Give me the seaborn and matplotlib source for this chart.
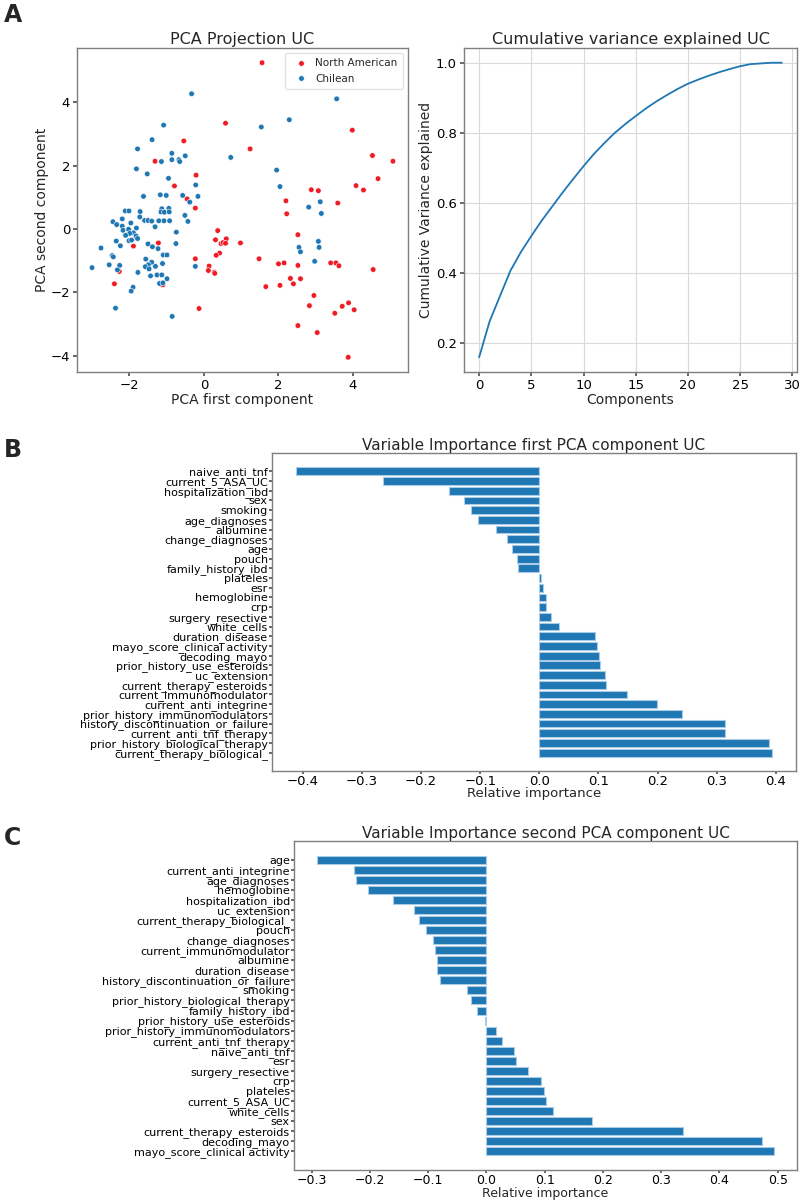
import matplotlib
matplotlib.use("Agg")
import matplotlib.pyplot as plt
import seaborn as sns
import numpy as np
import pandas as pd

# Style global
sns.set_theme(style="ticks")
plt.rcParams["font.family"] = ["DejaVu Sans"]
plt.rcParams["axes.edgecolor"] = "#7f7f7f"
plt.rcParams["axes.linewidth"] = 1.0
plt.rcParams["xtick.color"] = "#555555"
plt.rcParams["ytick.color"] = "#555555"
plt.rcParams["xtick.labelcolor"] = "black"
plt.rcParams["ytick.labelcolor"] = "black"
plt.rcParams["xtick.major.size"] = 3
plt.rcParams["ytick.major.size"] = 3
plt.rcParams["xtick.major.pad"] = 2
plt.rcParams["ytick.major.pad"] = 2

BLUE = "#1f77b4"
RED = "#ee1c25"

# --- Panel A : projection PCA ---
na_x = [0.58, -0.54, -1.31, -0.21, -0.79, -0.45, -0.23, 1.56, 3.98, 1.24, 4.52, 5.07,
        4.67, 4.08, 4.28, 2.88, 3.07, 2.20, 2.22, 3.59, -1.22, -1.89, -2.27, -2.40,
        -1.10, -0.23, -0.13, 0.37, 0.31, 0.60, 0.46, 0.51, 0.58, 0.42, 0.33, 0.98,
        0.14, 0.12, 0.28, 0.29, 1.48, 2.00, 2.15, 1.66, 2.04, 2.32, 2.40, 2.59,
        2.52, 2.52, 3.40, 3.54, 3.62, 4.54, 2.95, 2.83, 3.88, 3.71, 3.51, 4.03,
        2.52, 3.04, 3.87]
na_y = [3.34, 2.78, 2.14, 1.70, 1.36, 0.95, 0.66, 5.25, 3.12, 2.53, 2.32, 2.14,
        1.59, 1.37, 1.23, 1.24, 1.21, 0.89, 0.48, 0.82, -0.44, -0.54, -1.34, -1.73,
        -1.76, -0.94, -2.51, -0.05, -0.34, -0.31, -0.46, -0.43, -0.45, -0.76, -0.83, -0.44,
        -1.17, -1.31, -1.36, -1.40, -0.94, -1.10, -1.07, -1.82, -1.78, -1.56, -1.73, -1.57,
        -1.15, -0.18, -1.07, -1.07, -1.16, -1.28, -2.10, -2.42, -2.33, -2.44, -2.66, -2.55,
        -3.05, -3.27, -4.05]

cl_x = [-0.33, -1.08, -1.39, -1.78, 0.72, -1.14, -0.86, -0.86, -0.50, -0.67, -0.65,
        -1.81, -1.52, -0.95, -0.22, -1.17, -1.01, -1.62, -0.57, -0.16, -0.38,
        -1.13, -0.94, -1.15, -1.06, -0.93, -2.11, -2.01, -1.71, -1.72, -1.59, -1.50,
        -1.40, -1.21, -1.07, -0.92, -0.51, -0.43, -2.44, -2.34, -2.19, -1.96, -2.19,
        -1.31, -2.17, -2.02, -1.81, -1.89, -1.99, -2.10, -1.82, -1.78, -2.01, -1.94,
        -2.35, -2.24, -2.76, -0.74, -0.75, -1.50, -1.38, -1.23, -1.09, -0.99, -2.46,
        -2.43, -1.56, -1.40, -1.49, -1.57, -1.30, -1.47, -1.11, -3.00, -2.54, -2.26,
        -2.32, -1.77, -1.43, -1.26, -1.13, -0.99, -1.19, -1.10, -1.90, -1.95, -2.37,
        -0.85, -0.23, 3.56, 2.29, 1.54, 1.95, 2.04, 3.12, 2.81, 3.15, 2.55, 2.59,
        3.07, 3.09, 2.97]
cl_y = [4.27, 3.28, 2.82, 2.53, 2.26, 2.13, 2.39, 2.19, 2.31, 2.19, 2.13,
        1.90, 1.74, 1.60, 1.39, 1.08, 1.06, 1.03, 1.06, 1.03, 0.85,
        0.64, 0.65, 0.54, 0.53, 0.54, 0.57, 0.57, 0.55, 0.38, 0.27, 0.27,
        0.25, 0.26, 0.26, 0.26, 0.43, 0.24, 0.23, 0.14, 0.32, 0.19, 0.09,
        0.07, -0.04, -0.01, 0.03, -0.12, -0.14, -0.20, -0.22, -0.30, -0.37, -0.35,
        -0.38, -0.53, -0.60, -0.10, -0.46, -0.47, -0.56, -0.62, -0.82, -0.82, -0.84,
        -0.88, -0.95, -1.05, -1.13, -1.19, -1.18, -1.26, -1.09, -1.22, -1.13, -1.15,
        -1.29, -1.37, -1.48, -1.45, -1.45, -1.57, -1.72, -1.70, -1.84, -1.96, -2.50,
        -2.76, -1.18, 4.11, 3.45, 3.22, 1.86, 1.34, 0.86, 0.69, 0.49, -0.58, -0.72,
        -0.39, -0.58, -1.02]

# --- Panel A : variance cumulée ---
components = list(range(30))
cum_variance = [0.160, 0.262, 0.335, 0.407, 0.460, 0.506, 0.550, 0.590, 0.630, 0.668,
                0.705, 0.740, 0.771, 0.800, 0.825, 0.848, 0.870, 0.890, 0.908, 0.925,
                0.940, 0.952, 0.963, 0.973, 0.982, 0.990, 0.996, 0.998, 1.000, 1.000]

# --- Panel B : importance 1re composante ---
pc1_vars = ["naive_anti_tnf", "current_5_ASA_UC", "hospitalization_ibd", "sex", "smoking",
            "age_diagnoses", "albumine", "change_diagnoses", "age", "pouch",
            "family_history_ibd", "plateles", "esr", "hemoglobine", "crp",
            "surgery_resective", "white_cells", "duration_disease",
            "mayo_score_clinical activity", "decoding_mayo", "prior_history_use_esteroids",
            "uc_extension", "current_therapy_esteroids", "current_immunomodulator",
            "current_anti_integrine", "prior_history_immunomodulators",
            "history_discontinuation_or_failure", "current_anti_tnf_therapy",
            "prior_history_biological_therapy", "current_therapy_biological_"]
pc1_values = [-0.412, -0.265, -0.153, -0.128, -0.116, -0.104, -0.073, -0.055, -0.046, -0.038,
              -0.036, 0.003, 0.007, 0.011, 0.011, 0.020, 0.034, 0.095, 0.098, 0.101,
              0.102, 0.111, 0.113, 0.149, 0.199, 0.242, 0.314, 0.314, 0.389, 0.394]

# --- Panel C : importance 2e composante ---
pc2_vars = ["age", "current_anti_integrine", "age_diagnoses", "hemoglobine",
            "hospitalization_ibd", "uc_extension", "current_therapy_biological_", "pouch",
            "change_diagnoses", "current_immunomodulator", "albumine", "duration_disease",
            "history_discontinuation_or_failure", "smoking", "prior_history_biological_therapy",
            "family_history_ibd", "prior_history_use_esteroids", "prior_history_immunomodulators",
            "current_anti_tnf_therapy", "naive_anti_tnf", "esr", "surgery_resective", "crp",
            "plateles", "current_5_ASA_UC", "white_cells", "sex", "current_therapy_esteroids",
            "decoding_mayo", "mayo_score_clinical activity"]
pc2_values = [-0.291, -0.228, -0.223, -0.204, -0.161, -0.125, -0.116, -0.103, -0.092, -0.089,
              -0.085, -0.085, -0.079, -0.034, -0.027, -0.016, -0.002, 0.017, 0.026, 0.048,
              0.051, 0.072, 0.094, 0.099, 0.103, 0.114, 0.182, 0.337, 0.474, 0.494]

W, H = 800, 1202
fig = plt.figure(figsize=(W / 100, H / 100), dpi=100)


def box(left, top, right, bottom):
    # position en pixels -> fraction de figure
    return [left / W, 1 - bottom / H, (right - left) / W, (bottom - top) / H]


# Scatter PCA
ax1 = fig.add_axes(box(77, 48, 408, 372))
scatter_df = pd.DataFrame({
    "x": na_x + cl_x,
    "y": na_y + cl_y,
    "origin": ["North American"] * len(na_x) + ["Chilean"] * len(cl_x),
})
sns.scatterplot(data=scatter_df, x="x", y="y", hue="origin",
                palette={"North American": RED, "Chilean": BLUE},
                s=16, edgecolor="white", linewidth=0.4, ax=ax1)
ax1.set_title("PCA Projection UC", fontsize=11.5, pad=3)
ax1.set_xlabel("PCA first component", fontsize=10, labelpad=1)
ax1.set_ylabel("PCA second component", fontsize=10, labelpad=1)
ax1.tick_params(labelsize=9.5)
ax1.set_yticks([-4, -2, 0, 2, 4])
leg = ax1.legend(loc="upper right", fontsize=7.5, title=None, frameon=True,
                 handletextpad=0.4, borderpad=0.5, markerscale=1.0)
leg.get_frame().set_edgecolor("#dddddd")

# Variance cumulée
ax2 = fig.add_axes(box(464, 48, 797, 372))
sns.lineplot(x=components, y=cum_variance, color=BLUE, linewidth=1.3, ax=ax2)
ax2.grid(True, color="#d9d9d9", linewidth=0.8)
ax2.set_axisbelow(True)
ax2.set_title("Cumulative variance explained UC", fontsize=11.5, pad=3)
ax2.set_xlabel("Components", fontsize=10, labelpad=1)
ax2.set_ylabel("Cumulative Variance explained", fontsize=10, labelpad=2)
ax2.tick_params(labelsize=9.5)
ax2.set_xticks([0, 5, 10, 15, 20, 25, 30])


def importance_panel(ax, names, values, title):
    sns.barplot(x=values, y=names, orient="h", color=BLUE, saturation=1,
                width=0.8, edgecolor="#a9cbe6", linewidth=0.8, ax=ax)
    n = len(names)
    pad = 0.05 * (n - 0.2)
    ax.set_ylim(n - 0.6 + pad, -0.4 - pad)
    span = max(values) - min(values)
    ax.set_xlim(min(values) - 0.05 * span, max(values) + 0.05 * span)
    ax.set_title(title, fontsize=11, pad=2)
    ax.set_xlabel("Relative importance", fontsize=9.5, labelpad=-1)
    ax.set_ylabel("")
    ax.tick_params(axis="y", labelsize=8, length=2, pad=1)
    ax.tick_params(axis="x", labelsize=9.5, length=2, pad=1)


ax3 = fig.add_axes(box(272, 453, 796, 771))
importance_panel(ax3, pc1_vars, pc1_values, "Variable Importance first PCA component UC")
ax3.set_xticks([-0.4, -0.3, -0.2, -0.1, 0.0, 0.1, 0.2, 0.3, 0.4])

ax4 = fig.add_axes(box(294, 841, 797, 1170))
importance_panel(ax4, pc2_vars, pc2_values, "Variable Importance second PCA component UC")
ax4.set_xticks([-0.3, -0.2, -0.1, 0.0, 0.1, 0.2, 0.3, 0.4, 0.5])
ax4.tick_params(axis="x", labelsize=9)
ax4.set_xlabel("Relative importance", fontsize=9, labelpad=0)

# Lettres des panneaux
for letter, top in [("A", 3), ("B", 438), ("C", 826)]:
    fig.text(4 / W, 1 - top / H, letter, fontsize=17, fontweight="bold", va="top", ha="left")

fig.savefig("out.png", dpi=100)
